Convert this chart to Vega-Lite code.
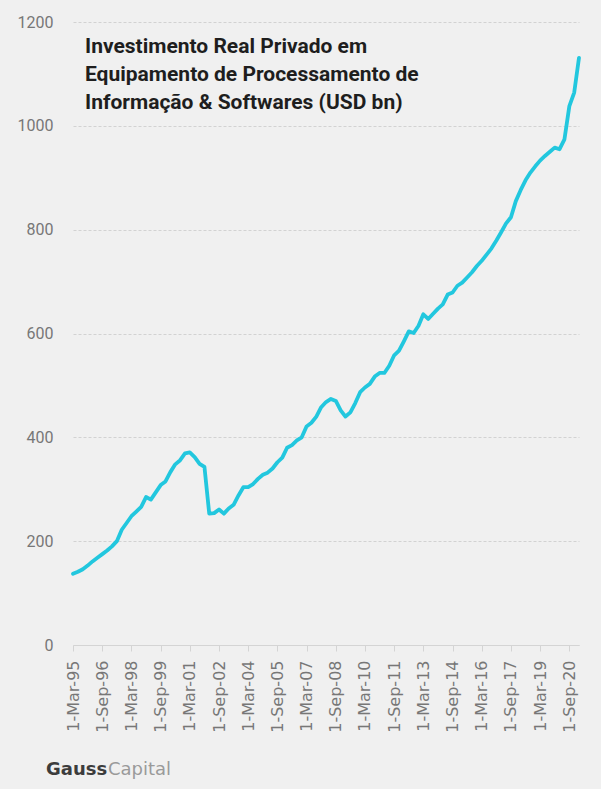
{
  "$schema": "https://vega.github.io/schema/vega-lite/v6.json",
  "autosize": {"type": "none"},
  "width": 506,
  "height": 623,
  "padding": {"left": 73, "top": 22, "right": 22, "bottom": 144},
  "background": "#f0f0f0",
  "config": {"view": {"stroke": null}},
  "datasets": {
    "series": [
      {"date": "1995-03-01T00:00:00", "value": 137}, {"date": "1995-06-01T00:00:00", "value": 141}, {"date": "1995-09-01T00:00:00", "value": 146}, {"date": "1995-12-01T00:00:00", "value": 153},
      {"date": "1996-03-01T00:00:00", "value": 161}, {"date": "1996-06-01T00:00:00", "value": 168}, {"date": "1996-09-01T00:00:00", "value": 175}, {"date": "1996-12-01T00:00:00", "value": 182},
      {"date": "1997-03-01T00:00:00", "value": 190}, {"date": "1997-06-01T00:00:00", "value": 200}, {"date": "1997-09-01T00:00:00", "value": 222}, {"date": "1997-12-01T00:00:00", "value": 235},
      {"date": "1998-03-01T00:00:00", "value": 248}, {"date": "1998-06-01T00:00:00", "value": 257}, {"date": "1998-09-01T00:00:00", "value": 266}, {"date": "1998-12-01T00:00:00", "value": 285},
      {"date": "1999-03-01T00:00:00", "value": 280}, {"date": "1999-06-01T00:00:00", "value": 294}, {"date": "1999-09-01T00:00:00", "value": 308}, {"date": "1999-12-01T00:00:00", "value": 315},
      {"date": "2000-03-01T00:00:00", "value": 333}, {"date": "2000-06-01T00:00:00", "value": 348}, {"date": "2000-09-01T00:00:00", "value": 356}, {"date": "2000-12-01T00:00:00", "value": 369},
      {"date": "2001-03-01T00:00:00", "value": 371}, {"date": "2001-06-01T00:00:00", "value": 362}, {"date": "2001-09-01T00:00:00", "value": 349}, {"date": "2001-12-01T00:00:00", "value": 343},
      {"date": "2002-03-01T00:00:00", "value": 253}, {"date": "2002-06-01T00:00:00", "value": 254}, {"date": "2002-09-01T00:00:00", "value": 261}, {"date": "2002-12-01T00:00:00", "value": 253},
      {"date": "2003-03-01T00:00:00", "value": 263}, {"date": "2003-06-01T00:00:00", "value": 270}, {"date": "2003-09-01T00:00:00", "value": 288}, {"date": "2003-12-01T00:00:00", "value": 304},
      {"date": "2004-03-01T00:00:00", "value": 304}, {"date": "2004-06-01T00:00:00", "value": 310}, {"date": "2004-09-01T00:00:00", "value": 320}, {"date": "2004-12-01T00:00:00", "value": 328},
      {"date": "2005-03-01T00:00:00", "value": 332}, {"date": "2005-06-01T00:00:00", "value": 340}, {"date": "2005-09-01T00:00:00", "value": 352}, {"date": "2005-12-01T00:00:00", "value": 361},
      {"date": "2006-03-01T00:00:00", "value": 380}, {"date": "2006-06-01T00:00:00", "value": 385}, {"date": "2006-09-01T00:00:00", "value": 394}, {"date": "2006-12-01T00:00:00", "value": 400},
      {"date": "2007-03-01T00:00:00", "value": 421}, {"date": "2007-06-01T00:00:00", "value": 428}, {"date": "2007-09-01T00:00:00", "value": 440}, {"date": "2007-12-01T00:00:00", "value": 458},
      {"date": "2008-03-01T00:00:00", "value": 468}, {"date": "2008-06-01T00:00:00", "value": 474}, {"date": "2008-09-01T00:00:00", "value": 470}, {"date": "2008-12-01T00:00:00", "value": 452},
      {"date": "2009-03-01T00:00:00", "value": 440}, {"date": "2009-06-01T00:00:00", "value": 448}, {"date": "2009-09-01T00:00:00", "value": 466}, {"date": "2009-12-01T00:00:00", "value": 487},
      {"date": "2010-03-01T00:00:00", "value": 496}, {"date": "2010-06-01T00:00:00", "value": 503}, {"date": "2010-09-01T00:00:00", "value": 517}, {"date": "2010-12-01T00:00:00", "value": 524},
      {"date": "2011-03-01T00:00:00", "value": 524}, {"date": "2011-06-01T00:00:00", "value": 538}, {"date": "2011-09-01T00:00:00", "value": 558}, {"date": "2011-12-01T00:00:00", "value": 567},
      {"date": "2012-03-01T00:00:00", "value": 585}, {"date": "2012-06-01T00:00:00", "value": 604}, {"date": "2012-09-01T00:00:00", "value": 601}, {"date": "2012-12-01T00:00:00", "value": 615},
      {"date": "2013-03-01T00:00:00", "value": 637}, {"date": "2013-06-01T00:00:00", "value": 628}, {"date": "2013-09-01T00:00:00", "value": 638}, {"date": "2013-12-01T00:00:00", "value": 648},
      {"date": "2014-03-01T00:00:00", "value": 656}, {"date": "2014-06-01T00:00:00", "value": 675}, {"date": "2014-09-01T00:00:00", "value": 679}, {"date": "2014-12-01T00:00:00", "value": 692},
      {"date": "2015-03-01T00:00:00", "value": 698}, {"date": "2015-06-01T00:00:00", "value": 708}, {"date": "2015-09-01T00:00:00", "value": 718}, {"date": "2015-12-01T00:00:00", "value": 730},
      {"date": "2016-03-01T00:00:00", "value": 740}, {"date": "2016-06-01T00:00:00", "value": 752}, {"date": "2016-09-01T00:00:00", "value": 764}, {"date": "2016-12-01T00:00:00", "value": 779},
      {"date": "2017-03-01T00:00:00", "value": 795}, {"date": "2017-06-01T00:00:00", "value": 812}, {"date": "2017-09-01T00:00:00", "value": 824}, {"date": "2017-12-01T00:00:00", "value": 855},
      {"date": "2018-03-01T00:00:00", "value": 876}, {"date": "2018-06-01T00:00:00", "value": 895}, {"date": "2018-09-01T00:00:00", "value": 910}, {"date": "2018-12-01T00:00:00", "value": 922},
      {"date": "2019-03-01T00:00:00", "value": 933}, {"date": "2019-06-01T00:00:00", "value": 942}, {"date": "2019-09-01T00:00:00", "value": 950}, {"date": "2019-12-01T00:00:00", "value": 958},
      {"date": "2020-03-01T00:00:00", "value": 955}, {"date": "2020-06-01T00:00:00", "value": 974}, {"date": "2020-09-01T00:00:00", "value": 1038}, {"date": "2020-12-01T00:00:00", "value": 1064},
      {"date": "2021-03-01T00:00:00", "value": 1131}
    ]
  },
  "layer": [
    {
      "data": {"name": "series"},
      "mark": {"type": "line", "color": "#22c7de", "strokeWidth": 3.8, "strokeJoin": "round", "strokeCap": "round"},
      "encoding": {
        "x": {
          "field": "date", "type": "temporal",
          "scale": {"domain": [{"year": 1995, "month": 3, "date": 1}, {"year": 2021, "month": 3, "date": 1}], "nice": false},
          "axis": {
            "title": null,
            "format": "%-d-%b-%y",
            "tickCount": 40,
            "values": [
              {"year": 1995, "month": 3, "date": 1}, {"year": 1996, "month": 9, "date": 1},
              {"year": 1998, "month": 3, "date": 1}, {"year": 1999, "month": 9, "date": 1},
              {"year": 2001, "month": 3, "date": 1}, {"year": 2002, "month": 9, "date": 1},
              {"year": 2004, "month": 3, "date": 1}, {"year": 2005, "month": 9, "date": 1},
              {"year": 2007, "month": 3, "date": 1}, {"year": 2008, "month": 9, "date": 1},
              {"year": 2010, "month": 3, "date": 1}, {"year": 2011, "month": 9, "date": 1},
              {"year": 2013, "month": 3, "date": 1}, {"year": 2014, "month": 9, "date": 1},
              {"year": 2016, "month": 3, "date": 1}, {"year": 2017, "month": 9, "date": 1},
              {"year": 2019, "month": 3, "date": 1}, {"year": 2020, "month": 9, "date": 1}
            ],
            "labelAngle": -90,
            "labelFont": "DejaVu Sans",
            "labelFontSize": 16,
            "labelColor": "#777777",
            "labelPadding": 9,
            "labelOverlap": false,
            "labelFlush": false,
            "labelBound": false,
            "grid": false,
            "domainColor": "#d4d4d4",
            "tickColor": "#d4d4d4",
            "tickSize": 6
          }
        },
        "y": {
          "field": "value", "type": "quantitative",
          "scale": {"domain": [0, 1200], "nice": false},
          "axis": {
            "title": null,
            "format": "d",
            "values": [0, 200, 400, 600, 800, 1000, 1200],
            "domain": false,
            "ticks": false,
            "labelPadding": 20,
            "labelFont": "Roboto",
            "labelFontSize": 16,
            "labelColor": "#777777",
            "gridColor": "#d2d2d2",
            "gridDash": [3, 2],
            "gridWidth": 1
          }
        }
      }
    },
    {
      "data": {"values": [{"t": "Investimento Real Privado em\nEquipamento de Processamento de\nInformação & Softwares (USD bn)"}]},
      "mark": {"type": "text", "align": "left", "baseline": "alphabetic", "dx": 12, "dy": 31, "lineBreak": "\n", "lineHeight": 28, "font": "Roboto", "fontWeight": "bold", "fontSize": 21, "color": "#1e1e1e"},
      "encoding": {
        "x": {"datum": {"year": 1995, "month": 3, "date": 1}, "type": "temporal"},
        "y": {"datum": 1200, "type": "quantitative"},
        "text": {"field": "t"}
      }
    },
    {
      "data": {"values": [{"t": "Gauss"}]},
      "mark": {"type": "text", "align": "left", "baseline": "alphabetic", "dx": -27, "dy": 130, "font": "DejaVu Sans", "fontWeight": "bold", "fontSize": 18, "color": "#3c3c3c"},
      "encoding": {
        "x": {"datum": {"year": 1995, "month": 3, "date": 1}, "type": "temporal"},
        "y": {"datum": 0, "type": "quantitative"},
        "text": {"field": "t"}
      }
    },
    {
      "data": {"values": [{"t": "Capital"}]},
      "mark": {"type": "text", "align": "left", "baseline": "alphabetic", "dx": 35, "dy": 130, "font": "DejaVu Sans", "fontSize": 18, "color": "#9a9a9a"},
      "encoding": {
        "x": {"datum": {"year": 1995, "month": 3, "date": 1}, "type": "temporal"},
        "y": {"datum": 0, "type": "quantitative"},
        "text": {"field": "t"}
      }
    }
  ]
}
